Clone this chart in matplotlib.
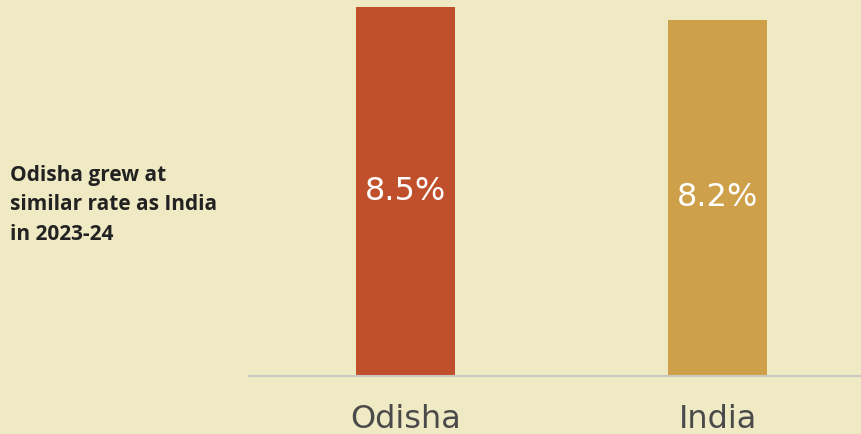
import matplotlib.pyplot as plt

regions = ['Odisha', 'India']
growth = [8.5, 8.2]
bar_colors = ['#C0502B', '#CFA04A']
note = 'Odisha grew at\nsimilar rate as India\nin 2023-24'

bg = '#F0EAC4'

fig = plt.figure(figsize=(8.61, 4.34), dpi=100, facecolor=bg)
ax = fig.add_axes([249 / 861, 1 - 376 / 434, 612 / 861, 376 / 434])
ax.set_facecolor(bg)

x = list(range(len(regions)))
bars = ax.bar(x, growth, width=0.317, color=bar_colors)

for b, v in zip(bars, growth):
    ax.text(b.get_x() + b.get_width() / 2, v * 0.5, f'{v}%',
            ha='center', va='center', color='white', fontsize=23, family='DejaVu Sans')

ax.set_xlim(-0.5, 1.458)
ax.set_ylim(0, 8.66)
ax.set_xticks(x)
ax.set_xticklabels(regions, fontsize=23, color='#4A4A4A')
ax.tick_params(axis='x', length=0, pad=20)
ax.set_yticks([])
for s in ['top', 'right', 'left']:
    ax.spines[s].set_visible(False)
ax.spines['bottom'].set_color('#C8C8C0')
ax.spines['bottom'].set_linewidth(1.5)

fig.text(10 / 861, 1 - 205 / 434, note, ha='left', va='center', fontsize=15,
         fontweight='bold', color='#222222', family='Open Sans', linespacing=1.5)

fig.savefig('out.png', dpi=100, facecolor=bg)
